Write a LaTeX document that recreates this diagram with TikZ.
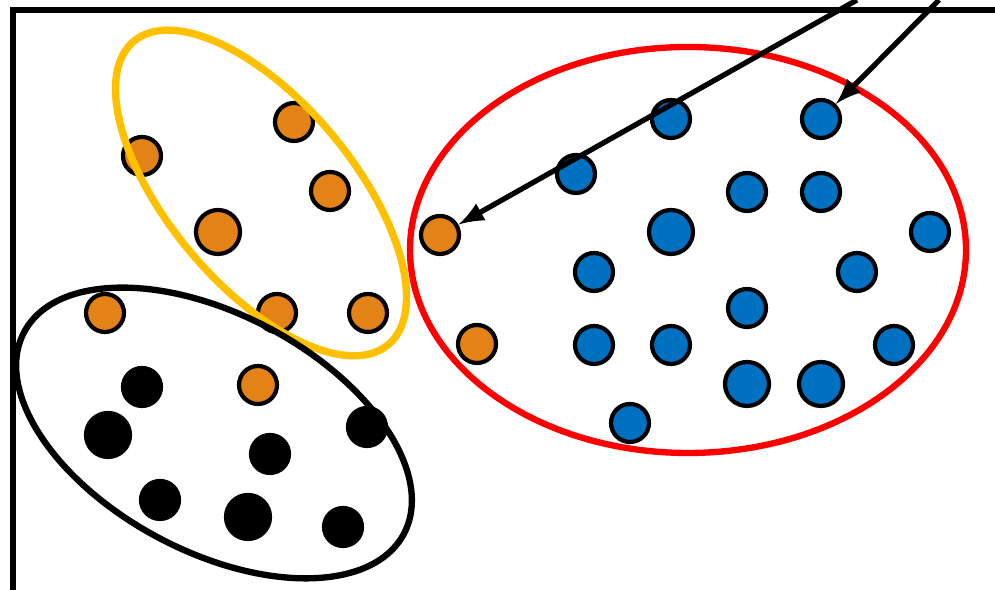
\documentclass[tikz,border=0pt]{standalone}
\usepackage{tikz}
\usepackage[dvipsnames]{xcolor}
\definecolor{dotorange}{RGB}{227,130,22}
\definecolor{dotblue}{RGB}{0,112,192}
\definecolor{ringyellow}{RGB}{255,192,0}

\begin{document}
\begin{tikzpicture}[
        dot/.style={circle, draw=black, line width=1.2pt, minimum size=0.38cm, inner sep=0pt},
        odot/.style={dot, fill=dotorange},
        bdot/.style={dot, fill=dotblue},
        kdot/.style={dot, fill=black},
        big/.style={minimum size=0.44cm}]
        \useasboundingbox (0,0) rectangle (9.95,5.9);
        \draw[line width=1.6pt] (0.13,0) -- (0.13,5.8) -- (9.95,5.8);

        \node[odot] (o1) at (1.42,4.34) {};
        \node[odot] (o2) at (2.94,4.68) {};
        \node[odot] (o3) at (3.30,3.99) {};
        \node[odot, big] (o4) at (2.18,3.58) {};
        \node[odot] (o5) at (1.05,2.77) {};
        \node[odot] (o6) at (2.77,2.77) {};
        \node[odot] (o7) at (3.68,2.77) {};
        \node[odot] (o8) at (2.58,2.05) {};
        \node[odot] (o9) at (4.40,3.55) {};
        \node[odot] (o10) at (4.77,2.46) {};

        \node[kdot] (k1) at (1.42,2.03) {};
        \node[kdot, big] (k2) at (1.08,1.55) {};
        \node[kdot] (k3) at (3.67,1.63) {};
        \node[kdot] (k4) at (2.70,1.36) {};
        \node[kdot] (k5) at (1.60,0.90) {};
        \node[kdot, big] (k6) at (2.48,0.73) {};
        \node[kdot] (k7) at (3.43,0.63) {};

        \node[bdot] (b1) at (6.71,4.71) {};
        \node[bdot] (b2) at (8.21,4.71) {};
        \node[bdot] (b3) at (5.76,4.16) {};
        \node[bdot] (b4) at (7.47,3.98) {};
        \node[bdot] (b5) at (8.21,3.98) {};
        \node[bdot, big] (b6) at (6.71,3.58) {};
        \node[bdot] (b7) at (9.30,3.58) {};
        \node[bdot] (b8) at (5.94,3.18) {};
        \node[bdot] (b9) at (8.57,3.18) {};
        \node[bdot] (b10) at (7.47,2.82) {};
        \node[bdot] (b11) at (5.94,2.45) {};
        \node[bdot] (b12) at (6.71,2.45) {};
        \node[bdot] (b13) at (8.94,2.45) {};
        \node[bdot, big] (b14) at (7.47,2.06) {};
        \node[bdot, big] (b15) at (8.21,2.06) {};
        \node[bdot] (b16) at (6.30,1.67) {};

        \draw[line width=2.1pt, ringyellow, rotate around={-50:(2.61,3.97)}] (2.61,3.97) ellipse (1.98 and 0.92);
        \draw[line width=1.8pt, black, rotate around={-28:(2.14,1.57)}] (2.14,1.57) ellipse (2.15 and 1.185);
        \draw[line width=1.8pt, red] (6.88,3.40) ellipse (2.78 and 2.03);

        \coordinate (s1) at (8.57,5.9);
        \coordinate (s2) at (9.39,5.9);
        \draw[line width=1.5pt, -latex] (s1) -- (o9);
        \draw[line width=1.5pt, -latex] (s2) -- (b2);
\end{tikzpicture}
\end{document}
